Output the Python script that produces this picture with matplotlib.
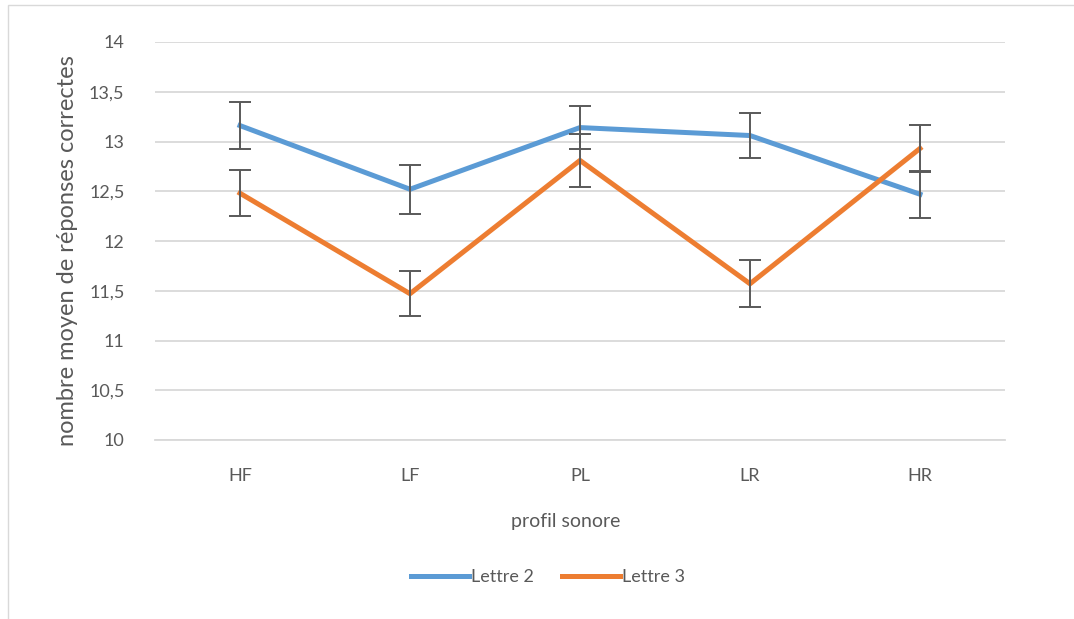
import matplotlib.pyplot as plt
import matplotlib.patches as patches
import numpy as np

categories = ["HF", "LF", "PL", "LR", "HR"]
lettre2 = [13.16, 12.52, 13.14, 13.06, 12.47]
lettre2_err = [0.24, 0.245, 0.22, 0.23, 0.235]
lettre3 = [12.48, 11.47, 12.81, 11.57, 12.93]
lettre3_err = [0.23, 0.225, 0.27, 0.235, 0.235]
yticks = [10, 10.5, 11, 11.5, 12, 12.5, 13, 13.5, 14]
ytick_labels = ["10", "10,5", "11", "11,5", "12", "12,5", "13", "13,5", "14"]

txt_color = "#595959"
plt.rcParams["font.family"] = ["Lato", "DejaVu Sans"]

fig = plt.figure(figsize=(10.74, 6.19), dpi=100)
ax = fig.add_axes([155 / 1074, 1 - 440 / 619, 850 / 1074, 398 / 619])

# light chart border
fig.patches.append(patches.Rectangle((8 / 1074, -0.1), 1.2, 1 - 5 / 619 + 0.1,
                                     transform=fig.transFigure, fill=False,
                                     edgecolor="#D9D9D9", linewidth=1))

x = np.arange(len(categories))
ax.plot(x, lettre2, color="#5B9BD5", linewidth=3.6, label="Lettre 2", zorder=3)
ax.plot(x, lettre3, color="#ED7D31", linewidth=3.6, label="Lettre 3", zorder=3)
ax.errorbar(x, lettre2, yerr=lettre2_err, fmt="none", ecolor="#595959",
            elinewidth=1.4, capsize=8, capthick=1.4, zorder=4)
ax.errorbar(x, lettre3, yerr=lettre3_err, fmt="none", ecolor="#595959",
            elinewidth=1.4, capsize=8, capthick=1.4, zorder=4)

ax.set_xlim(-0.5, 4.5)
ax.set_ylim(10, 14)
ax.set_yticks(yticks)
ax.set_yticklabels(ytick_labels)
ax.set_xticks(x)
ax.set_xticklabels(categories)
ax.yaxis.grid(True, color="#D9D9D9", linewidth=1.3)
ax.set_axisbelow(True)
for s in ax.spines.values():
    s.set_visible(False)
ax.spines["bottom"].set_visible(True)
ax.spines["bottom"].set_color("#D9D9D9")
ax.spines["bottom"].set_linewidth(1.3)
ax.tick_params(axis="both", length=0, labelsize=13, colors=txt_color)
ax.tick_params(axis="y", pad=22)
ax.tick_params(axis="x", pad=20)

ax.set_xlabel("profil sonore", fontsize=14, color=txt_color)
ax.xaxis.set_label_coords((566 - 155) / 850, -(513 - 440) / 398)
ax.set_ylabel("nombre moyen de réponses correctes", fontsize=17, color=txt_color)
ax.yaxis.set_label_coords(-(155 - 78) / 850, (440 - 251) / 398)

ax.legend(loc="center", bbox_to_anchor=(548 / 1074, 1 - 577 / 619),
          bbox_transform=fig.transFigure, ncol=2, frameon=False, fontsize=13,
          handlelength=3.2, handletextpad=0.1, columnspacing=1.6,
          labelcolor=txt_color)

fig.savefig("out.png", dpi=100)
